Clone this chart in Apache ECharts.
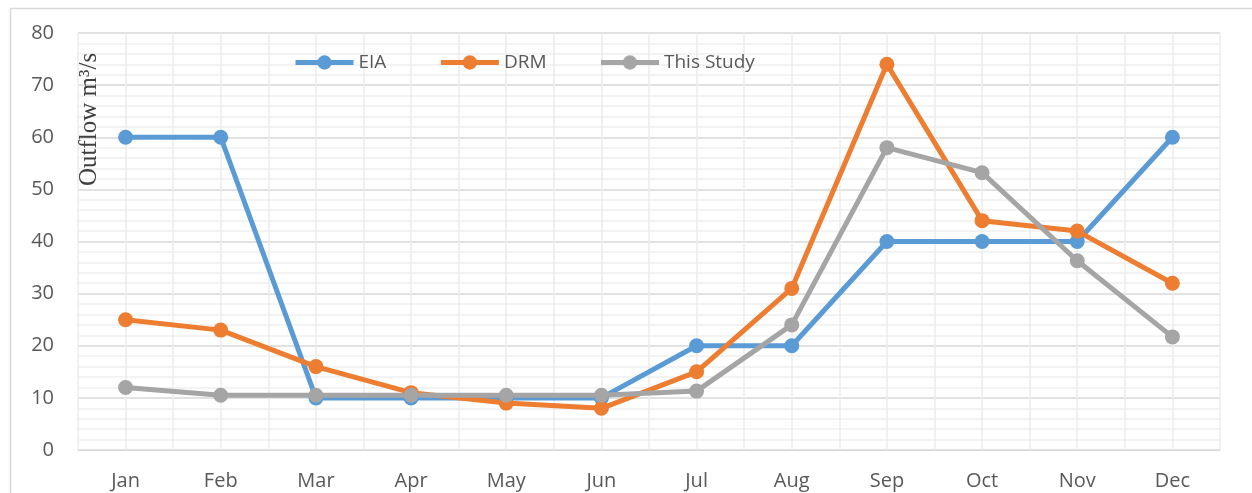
<!DOCTYPE html>
<html>
<head>
<meta charset="utf-8">
<script src="https://cdn.jsdelivr.net/npm/echarts@6/dist/echarts.min.js"></script>
<style>
html,body{margin:0;padding:0;background:#fff;}
#chart{width:1252px;height:493px;}
</style>
</head>
<body>
<div id="chart"></div>
<script>
var months = ['Jan','Feb','Mar','Apr','May','Jun','Jul','Aug','Sep','Oct','Nov','Dec'];
var eia = [60, 60, 10, 10, 10, 10, 20, 20, 40, 40, 40, 60];
var drm = [25, 23, 16, 11, 9, 8, 15, 31, 74, 44, 42, 32];
var thisStudy = [12, 10.5, 10.5, 10.5, 10.5, 10.5, 11.3, 24, 58, 53.2, 36.3, 21.7];
var seriesNames = ['EIA', 'DRM', 'This Study'];
var yTitle = 'Outflow m³/s';

var halfSlots = [];
for (var i = 0; i < months.length * 2; i++) halfSlots.push(String(i));

var chart = echarts.init(document.getElementById('chart'));
var font = '"Open Sans", "Noto Sans", sans-serif';
function mk(name, data, color) {
  return {
    name: name, type: 'line', data: data,
    xAxisIndex: 0, yAxisIndex: 0,
    symbol: 'circle', symbolSize: 15,
    lineStyle: {width: 5, color: color},
    itemStyle: {color: color},
    z: 3
  };
}
chart.setOption({
  animation: false,
  color: ['#5B9BD5', '#ED7D31', '#A5A5A5'],
  grid: {left: 78, right: 32, top: 33, bottom: 43, containLabel: false},
  graphic: [
    {type: 'rect', shape: {x: 10.5, y: 8.5, width: 1260, height: 500}, style: {fill: 'none', stroke: '#d9d9d9', lineWidth: 1.5}, z: -10, silent: true},
    {type: 'text', rotation: Math.PI / 2, x: 77, y: 186,
     style: {text: yTitle, font: '25px "Liberation Serif", "DejaVu Serif", serif', fill: '#404040'}, z: 10}
  ],
  legend: {
    data: seriesNames,
    top: 48, left: 288,
    itemWidth: 58, itemHeight: 18, itemGap: 52,
    lineStyle: {width: 5},
    textStyle: {fontFamily: font, fontSize: 19, color: '#595959'}
  },
  xAxis: [
    {type: 'category', data: months, boundaryGap: true,
     axisLine: {lineStyle: {color: '#d9d9d9', width: 1}},
     axisTick: {show: false},
     axisLabel: {fontFamily: font, fontSize: 20, color: '#595959', margin: 21},
     splitLine: {show: false}},
    {type: 'category', data: halfSlots, boundaryGap: true, position: 'bottom',
     axisLine: {show: false}, axisTick: {show: false}, axisLabel: {show: false},
     splitLine: {show: true, interval: 0, lineStyle: {color: '#ececec', width: 1.5}}}
  ],
  yAxis: {
    type: 'value', min: 0, max: 80, interval: 10,
    axisLine: {show: false}, axisTick: {show: false},
    axisLabel: {fontFamily: font, fontSize: 20, color: '#595959', margin: 24},
    splitLine: {lineStyle: {color: '#d9d9d9', width: 1.5}},
    minorTick: {show: false, splitNumber: 5},
    minorSplitLine: {show: true, lineStyle: {color: '#efefef', width: 1.5}}
  },
  series: [
    mk(seriesNames[0], eia, '#5B9BD5'),
    mk(seriesNames[1], drm, '#ED7D31'),
    mk(seriesNames[2], thisStudy, '#A5A5A5')
  ]
});
</script>
</body>
</html>
